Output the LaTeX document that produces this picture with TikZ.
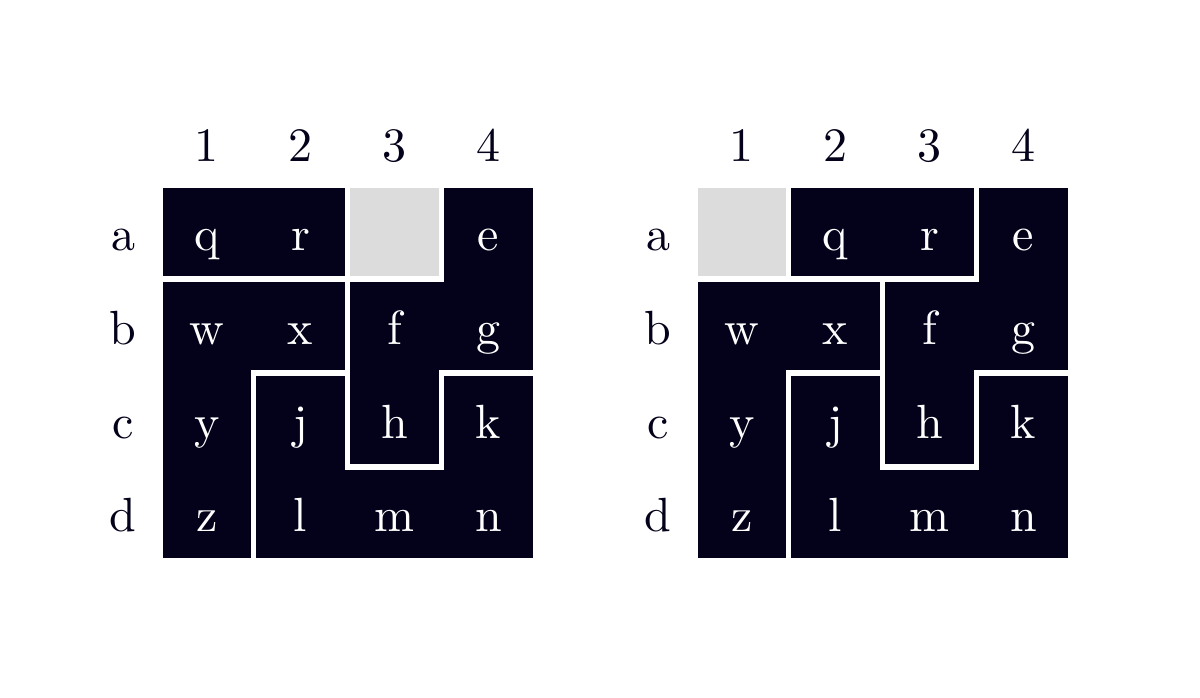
\documentclass[tikz,border=0pt]{standalone}
\usepackage{fontspec}
\newfontfamily\lmten{lmroman10-regular.otf}
\definecolor{ink}{RGB}{3,2,26}
\definecolor{blank}{RGB}{220,220,220}
\tikzset{
  piece/.style={fill=ink},
  gap/.style={draw=white, line width=5.5pt, line join=miter},
  hole/.style={fill=blank},
  celltxt/.style={text=white, anchor=base, yshift=-18pt, inner sep=0pt, font=\lmten\fontsize{48}{58}\selectfont},
  axistxt/.style={text=ink, anchor=base, inner sep=0pt, font=\lmten\fontsize{48}{58}\selectfont},
  rowtxt/.style={axistxt, yshift=-18pt},
}
\newcommand\cellletters[1]{%
  \node[celltxt] (#1w) at (0.5,1.5) {w};
  \node[celltxt] (#1x) at (1.5,1.5) {x};
  \node[celltxt] (#1f) at (2.5,1.5) {f};
  \node[celltxt] (#1g) at (3.5,1.5) {g};
  \node[celltxt] (#1y) at (0.5,2.5) {y};
  \node[celltxt] (#1j) at (1.5,2.5) {j};
  \node[celltxt] (#1h) at (2.5,2.5) {h};
  \node[celltxt] (#1k) at (3.5,2.5) {k};
  \node[celltxt] (#1z) at (0.5,3.5) {z};
  \node[celltxt] (#1l) at (1.5,3.5) {l};
  \node[celltxt] (#1m) at (2.5,3.5) {m};
  \node[celltxt] (#1n) at (3.5,3.5) {n};
  \node[celltxt] (#1e) at (3.5,0.5) {e};
  \node[axistxt] (#1c1) at (0.5,-0.258) {1};
  \node[axistxt] (#1c2) at (1.5,-0.258) {2};
  \node[axistxt] (#1c3) at (2.5,-0.258) {3};
  \node[axistxt] (#1c4) at (3.5,-0.258) {4};
  \node[rowtxt] (#1ra) at (-0.39,0.5) {a};
  \node[rowtxt] (#1rb) at (-0.39,1.5) {b};
  \node[rowtxt] (#1rc) at (-0.39,2.5) {c};
  \node[rowtxt] (#1rd) at (-0.39,3.5) {d};
}
\newcommand\commonpieces{%
  % S piece e f g h
  \path[piece] (3,0) -- (4,0) -- (4,2) -- (3,2) -- (3,3) -- (2,3) -- (2,1) -- (3,1) -- cycle;
  % L piece w x y z
  \path[piece] (0,1) -- (2,1) -- (2,2) -- (1,2) -- (1,4) -- (0,4) -- cycle;
  % U piece j k l m n
  \path[piece] (1,2) -- (2,2) -- (2,3) -- (3,3) -- (3,2) -- (4,2) -- (4,4) -- (1,4) -- cycle;
}
\newcommand\commongaps{%
  \path[gap] (3,0) -- (4,0) -- (4,2) -- (3,2) -- (3,3) -- (2,3) -- (2,1) -- (3,1) -- cycle;
  \path[gap] (0,1) -- (2,1) -- (2,2) -- (1,2) -- (1,4) -- (0,4) -- cycle;
  \path[gap] (1,2) -- (2,2) -- (2,3) -- (3,3) -- (3,2) -- (4,2) -- (4,4) -- (1,4) -- cycle;
}
\begin{document}
\begin{tikzpicture}[x=1pt,y=-1pt]
\useasboundingbox[fill=white] (0,0) rectangle (1200,697);
% left grid
\begin{scope}[shift={(159.75pt,-185.25pt)}, x=93.9pt, y=-93.9pt]
  \path[hole] (2,0) rectangle (3,1);
  \path[piece] (0,0) rectangle (2,1);
  \commonpieces
  \path[gap] (2,0) rectangle (3,1);
  \path[gap] (0,0) rectangle (2,1);
  \commongaps
  \node[celltxt] (Lq) at (0.5,0.5) {q};
  \node[celltxt] (Lr) at (1.5,0.5) {r};
  \cellletters{L}
\end{scope}
% right grid
\begin{scope}[shift={(694.75pt,-185.25pt)}, x=93.9pt, y=-93.9pt]
  \path[hole] (0,0) rectangle (1,1);
  \path[piece] (1,0) rectangle (3,1);
  \commonpieces
  \path[gap] (0,0) rectangle (1,1);
  \path[gap] (1,0) rectangle (3,1);
  \commongaps
  \node[celltxt] (Rq) at (1.5,0.5) {q};
  \node[celltxt] (Rr) at (2.5,0.5) {r};
  \cellletters{R}
\end{scope}
\end{tikzpicture}
\end{document}
